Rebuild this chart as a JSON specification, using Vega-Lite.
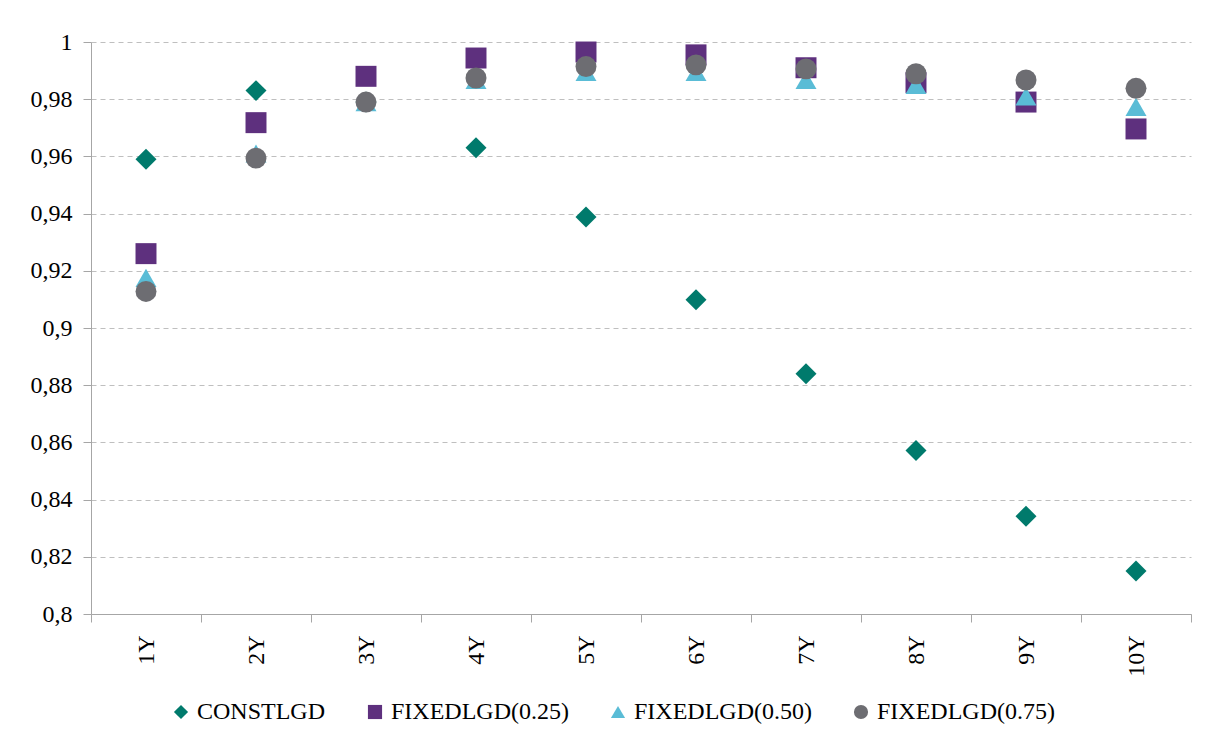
{
  "$schema": "https://vega.github.io/schema/vega-lite/v6.json",
  "autosize": {"type": "none"},
  "width": 1100,
  "height": 572,
  "padding": {"left": 91, "top": 42, "right": 15, "bottom": 124},
  "background": "white",
  "config": {
    "view": {"stroke": null},
    "font": "Liberation Serif"
  },
  "data": {
    "values": [
      {"t": "1Y", "s": "CONSTLGD", "v": 0.959},
      {"t": "2Y", "s": "CONSTLGD", "v": 0.983},
      {"t": "3Y", "s": "CONSTLGD", "v": 0.979},
      {"t": "4Y", "s": "CONSTLGD", "v": 0.963},
      {"t": "5Y", "s": "CONSTLGD", "v": 0.9388},
      {"t": "6Y", "s": "CONSTLGD", "v": 0.9099},
      {"t": "7Y", "s": "CONSTLGD", "v": 0.884},
      {"t": "8Y", "s": "CONSTLGD", "v": 0.8572},
      {"t": "9Y", "s": "CONSTLGD", "v": 0.8342},
      {"t": "10Y", "s": "CONSTLGD", "v": 0.815},
      {"t": "1Y", "s": "FIXEDLGD(0.25)", "v": 0.926},
      {"t": "2Y", "s": "FIXEDLGD(0.25)", "v": 0.9718},
      {"t": "3Y", "s": "FIXEDLGD(0.25)", "v": 0.988},
      {"t": "4Y", "s": "FIXEDLGD(0.25)", "v": 0.9944},
      {"t": "5Y", "s": "FIXEDLGD(0.25)", "v": 0.9965},
      {"t": "6Y", "s": "FIXEDLGD(0.25)", "v": 0.9955},
      {"t": "7Y", "s": "FIXEDLGD(0.25)", "v": 0.991},
      {"t": "8Y", "s": "FIXEDLGD(0.25)", "v": 0.9858},
      {"t": "9Y", "s": "FIXEDLGD(0.25)", "v": 0.979},
      {"t": "10Y", "s": "FIXEDLGD(0.25)", "v": 0.9696},
      {"t": "1Y", "s": "FIXEDLGD(0.50)", "v": 0.9175},
      {"t": "2Y", "s": "FIXEDLGD(0.50)", "v": 0.961},
      {"t": "3Y", "s": "FIXEDLGD(0.50)", "v": 0.979},
      {"t": "4Y", "s": "FIXEDLGD(0.50)", "v": 0.9867},
      {"t": "5Y", "s": "FIXEDLGD(0.50)", "v": 0.9895},
      {"t": "6Y", "s": "FIXEDLGD(0.50)", "v": 0.9895},
      {"t": "7Y", "s": "FIXEDLGD(0.50)", "v": 0.9867},
      {"t": "8Y", "s": "FIXEDLGD(0.50)", "v": 0.985},
      {"t": "9Y", "s": "FIXEDLGD(0.50)", "v": 0.981},
      {"t": "10Y", "s": "FIXEDLGD(0.50)", "v": 0.9773},
      {"t": "1Y", "s": "FIXEDLGD(0.75)", "v": 0.9128},
      {"t": "2Y", "s": "FIXEDLGD(0.75)", "v": 0.9594},
      {"t": "3Y", "s": "FIXEDLGD(0.75)", "v": 0.979},
      {"t": "4Y", "s": "FIXEDLGD(0.75)", "v": 0.9874},
      {"t": "5Y", "s": "FIXEDLGD(0.75)", "v": 0.9914},
      {"t": "6Y", "s": "FIXEDLGD(0.75)", "v": 0.992},
      {"t": "7Y", "s": "FIXEDLGD(0.75)", "v": 0.9906},
      {"t": "8Y", "s": "FIXEDLGD(0.75)", "v": 0.9889},
      {"t": "9Y", "s": "FIXEDLGD(0.75)", "v": 0.9867},
      {"t": "10Y", "s": "FIXEDLGD(0.75)", "v": 0.9838}
    ]
  },
  "mark": {"type": "point", "filled": true, "opacity": 1, "size": 440},
  "encoding": {
    "x": {
      "field": "t",
      "type": "nominal",
      "sort": ["1Y", "2Y", "3Y", "4Y", "5Y", "6Y", "7Y", "8Y", "9Y", "10Y"],
      "scale": {"type": "band", "paddingInner": 0, "paddingOuter": 0},
      "axis": {
        "title": null,
        "labelAngle": -90,
        "tickBand": "extent",
        "grid": false,
        "domainColor": "#a6a6a6",
        "tickColor": "#a6a6a6",
        "tickSize": 8,
        "labelFont": "Liberation Serif",
        "labelFontSize": 24,
        "labelColor": "#000000",
        "labelPadding": 13
      }
    },
    "y": {
      "field": "v",
      "type": "quantitative",
      "scale": {"domain": [0.8, 1], "nice": false, "zero": false},
      "axis": {
        "title": null,
        "values": [0.8, 0.82, 0.84, 0.86, 0.88, 0.9, 0.92, 0.94, 0.96, 0.98, 1],
        "labelExpr": "replace(format(datum.value, '.2~f'), '.', ',')",
        "grid": true,
        "gridDash": [5, 4],
        "gridColor": "#bfbfbf",
        "domainColor": "#a6a6a6",
        "tickColor": "#a6a6a6",
        "tickSize": 8,
        "labelFont": "Liberation Serif",
        "labelFontSize": 24,
        "labelColor": "#000000",
        "labelPadding": 11
      }
    },
    "color": {
      "field": "s",
      "type": "nominal",
      "scale": {
        "domain": ["CONSTLGD", "FIXEDLGD(0.25)", "FIXEDLGD(0.50)", "FIXEDLGD(0.75)"],
        "range": ["#007A6C", "#5E307E", "#5ABCD6", "#6D6D72"]
      },
      "legend": {
        "title": null,
        "orient": "none",
        "legendX": 78,
        "legendY": 658,
        "direction": "horizontal",
        "symbolSize": 200,
        "symbolStrokeWidth": 0,
        "labelFont": "Liberation Serif",
        "labelFontSize": 24,
        "labelColor": "#000000",
        "labelLimit": 0,
        "labelOffset": 4,
        "columnPadding": 37,
        "padding": 0
      }
    },
    "shape": {
      "field": "s",
      "type": "nominal",
      "scale": {
        "domain": ["CONSTLGD", "FIXEDLGD(0.25)", "FIXEDLGD(0.50)", "FIXEDLGD(0.75)"],
        "range": ["diamond", "square", "triangle-up", "circle"]
      },
      "legend": null
    }
  }
}
